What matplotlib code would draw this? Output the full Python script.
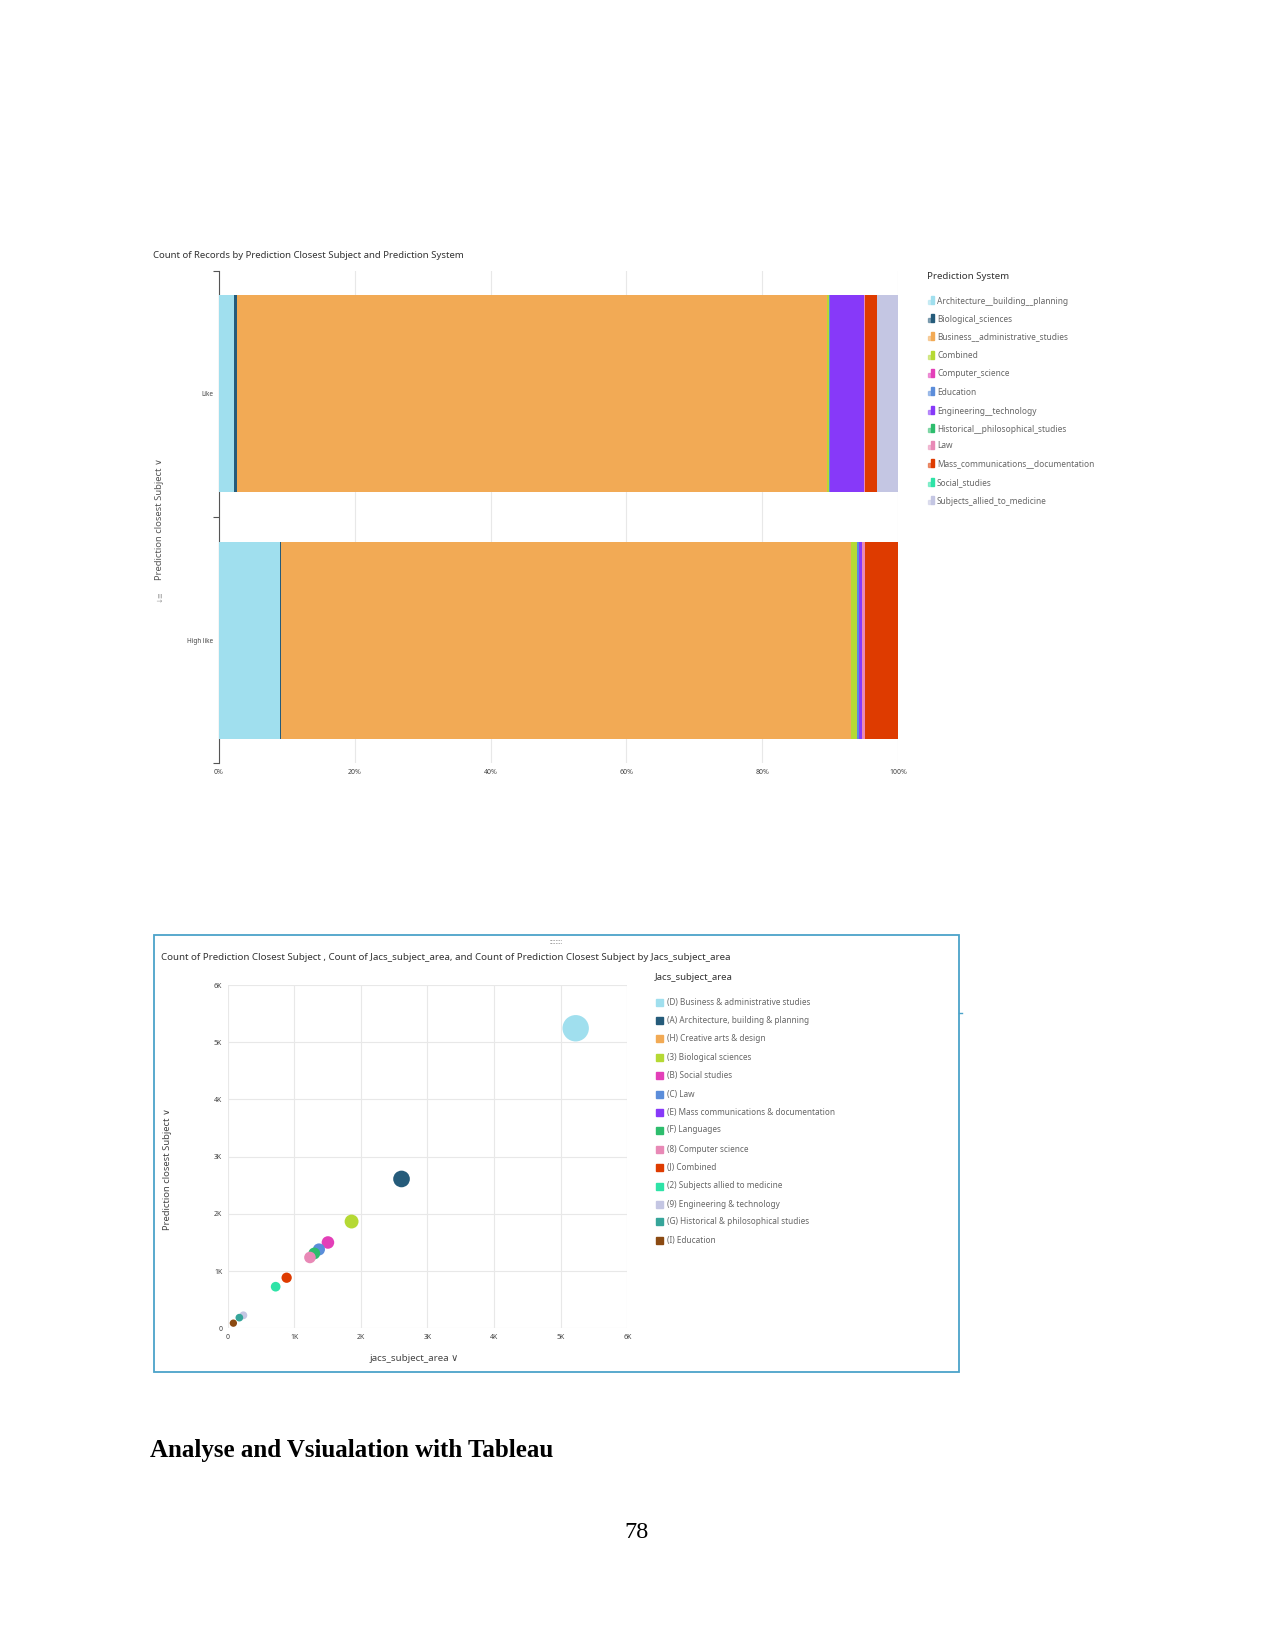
import numpy as np
import matplotlib
matplotlib.use('Agg')
import matplotlib.pyplot as plt
from matplotlib.patches import Rectangle

plt.rcParams['font.family'] = ['Noto Sans', 'DejaVu Sans']

# ---- data: top chart (percent of records per prediction system) ----
bar_cats = ['High like', 'Like']
systems = ['Architecture__building__planning', 'Biological_sciences',
           'Business__administrative_studies', 'Combined', 'Computer_science',
           'Education', 'Engineering__technology', 'Historical__philosophical_studies',
           'Law', 'Mass_communications__documentation', 'Social_studies',
           'Subjects_allied_to_medicine']
sys_colors = ['#A0DFEE', '#255B7A', '#F2AA55', '#B5D934', '#E33FB8', '#5B8DDA',
              '#8739F9', '#2DBD6D', '#E889B6', '#DE3B00', '#2EE3A7', '#C4C6E3']
high_like_pct = [9.0, 0.2, 83.9, 0.8, 0.0, 0.4, 0.4, 0.0, 0.4, 4.9, 0.0, 0.0]
like_pct      = [2.2, 0.5, 86.8, 0.3, 0.0, 0.2, 5.0, 0.0, 0.2, 1.7, 0.0, 3.1]
pct_ticks = [0, 20, 40, 60, 80, 100]

# ---- data: bottom chart (counts by jacs subject area) ----
subjects = ['(D) Business & administrative studies', '(A) Architecture, building & planning',
            '(H) Creative arts & design', '(3) Biological sciences', '(B) Social studies',
            '(C) Law', '(E) Mass communications & documentation', '(F) Languages',
            '(8) Computer science', '(J) Combined', '(2) Subjects allied to medicine',
            '(9) Engineering & technology', '(G) Historical & philosophical studies',
            '(I) Education']
subj_colors = ['#A0DFEE', '#255B7A', '#F2AA55', '#B5D934', '#E33FB8', '#5B8DDA',
               '#8739F9', '#2DBD6D', '#E889B6', '#DE3B00', '#2EE3A7', '#C4C6E3',
               '#36A59A', '#8B4A12']
jacs_count = [5225, 2610, np.nan, 1860, 1505, 1370, np.nan, 1300, 1235, 885, 720, 235, 175, 85]
pred_count = [5244, 2610, np.nan, 1866, 1500, 1378, np.nan, 1308, 1238, 884, 727, 227, 186, 90]
k_ticks = [0, 1000, 2000, 3000, 4000, 5000, 6000]
k_labels = ['0', '1K', '2K', '3K', '4K', '5K', '6K']

W, H = 1275, 1651
fig = plt.figure(figsize=(W/100, H/100), dpi=100)

def fx(px): return px / W
def fy(py): return 1 - py / H
def box(l, t, r, b): return [fx(l), fy(b), fx(r) - fx(l), fy(t) - fy(b)]

txt = '#444444'
grid_c = '#E8E8E8'

# ================= top chart =================
fig.text(fx(153), fy(256), 'Count of Records by Prediction Closest Subject and Prediction System',
         fontsize=6.9, color='#333333', va='center')

ax = fig.add_axes(box(219, 270.6, 898, 763.5))
data = np.array([high_like_pct, like_pct])
left = np.zeros(2)
for i, name in enumerate(systems):
    ax.barh([0, 1], data[:, i], left=left, height=0.8, color=sys_colors[i], zorder=3)
    left += data[:, i]
ax.set_xlim(0, 100)
ax.set_ylim(-0.5, 1.5)
ax.set_xticks(pct_ticks)
ax.set_xticklabels([f'{t}%' for t in pct_ticks], fontsize=5, color=txt)
ax.set_yticks([0, 1])
ax.set_yticklabels(bar_cats, fontsize=4.6, color=txt)
ax.set_yticks([-0.5, 0.5, 1.5], minor=True)
ax.tick_params(axis='both', which='major', length=0, pad=4)
ax.tick_params(axis='y', which='minor', length=4, width=0.8, color='#555555')
ax.xaxis.grid(True, color=grid_c, lw=0.8, zorder=0)
for s in ['top', 'right', 'bottom']:
    ax.spines[s].set_visible(False)
ax.spines['left'].set_color('#555555')
ax.spines['left'].set_linewidth(0.8)

fig.text(fx(160), fy(519), 'Prediction closest Subject \u2228', rotation=90, fontsize=6.8,
         color='#555555', ha='center', va='center')
fig.text(fx(160), fy(596), '\u2193\u2261', rotation=90, fontsize=5, color='#999999',
         ha='center', va='center')

# legend (drawn by hand, mini bar icons)
fig.text(fx(927), fy(276), 'Prediction System', fontsize=7, color='#333333', va='center')
leg_y = [301, 319, 337, 356, 374, 392, 411, 429, 446, 464, 483, 501]
for name, c, yy in zip(systems, sys_colors, leg_y):
    fig.add_artist(Rectangle((fx(927.5), fy(yy + 3)), 3 / W, 4 / H, color=c, alpha=0.5,
                             transform=fig.transFigure))
    fig.add_artist(Rectangle((fx(931), fy(yy + 3)), 3 / W, 8 / H, color=c,
                             transform=fig.transFigure))
    fig.text(fx(937), fy(yy), name, fontsize=6.0, color='#666666', va='center')

# ================= bottom chart =================
fig.add_artist(Rectangle((fx(154), fy(1372)), (959 - 154) / W, (1372 - 935) / H,
                         fill=False, edgecolor='#4BA3C9', lw=1.3, transform=fig.transFigure))
fig.text(fx(556), fy(942), '::::::::', fontsize=4.5, color='#777777', ha='center', va='center')
fig.add_artist(plt.Line2D([fx(959), fx(962)], [fy(1013), fy(1013)], color='#4BA3C9', lw=1,
                          transform=fig.transFigure))
fig.text(fx(161), fy(957),
         'Count of Prediction Closest Subject , Count of Jacs_subject_area, and Count of Prediction Closest Subject by Jacs_subject_area',
         fontsize=7.0, color='#333333', va='center')

ax2 = fig.add_axes(box(227.7, 985, 627.3, 1328.3))
pred_arr = np.array(pred_count, dtype=float)
diam_px = 7 + pred_arr * 0.0037
sizes = (diam_px * 0.72) ** 2
ax2.scatter(jacs_count, pred_count, s=sizes, c=subj_colors, zorder=3, linewidths=0)
ax2.set_xlim(0, 6000)
ax2.set_ylim(0, 6000)
ax2.set_xticks(k_ticks)
ax2.set_xticklabels(k_labels, fontsize=5, color=txt)
ax2.set_yticks(k_ticks)
ax2.set_yticklabels(k_labels, fontsize=5, color=txt)
ax2.tick_params(axis='both', length=0, pad=4)
ax2.grid(True, color=grid_c, lw=0.8, zorder=0)
for s in ax2.spines.values():
    s.set_visible(False)

fig.text(fx(414), fy(1358), 'jacs_subject_area \u2228', fontsize=7, color='#444444',
         ha='center', va='center')
fig.text(fx(168), fy(1169), 'Prediction closest Subject \u2228', rotation=90, fontsize=6.8,
         color='#444444', ha='center', va='center')

fig.text(fx(655), fy(977), 'Jacs_subject_area', fontsize=6.9, color='#333333', va='center')
leg2_y = [1002.5, 1020.5, 1038.5, 1057, 1075, 1094, 1112, 1130, 1149, 1167, 1186, 1204, 1221.5, 1240.5]
for name, c, yy in zip(subjects, subj_colors, leg2_y):
    fig.add_artist(Rectangle((fx(655.5), fy(yy + 3.5)), 7 / W, 7 / H, color=c,
                             transform=fig.transFigure))
    fig.text(fx(667), fy(yy), name, fontsize=5.9, color='#666666', va='center')

# ================= page text =================
fig.text(fx(150), fy(1450), 'Analyse and Vsiualation with Tableau', fontsize=18,
         fontweight='bold', family='Liberation Serif', color='black', va='center')
fig.text(fx(637), fy(1532), '78', fontsize=17.5, family='Liberation Serif',
         color='black', ha='center', va='center')

fig.savefig('out.png', dpi=100, facecolor='white')
